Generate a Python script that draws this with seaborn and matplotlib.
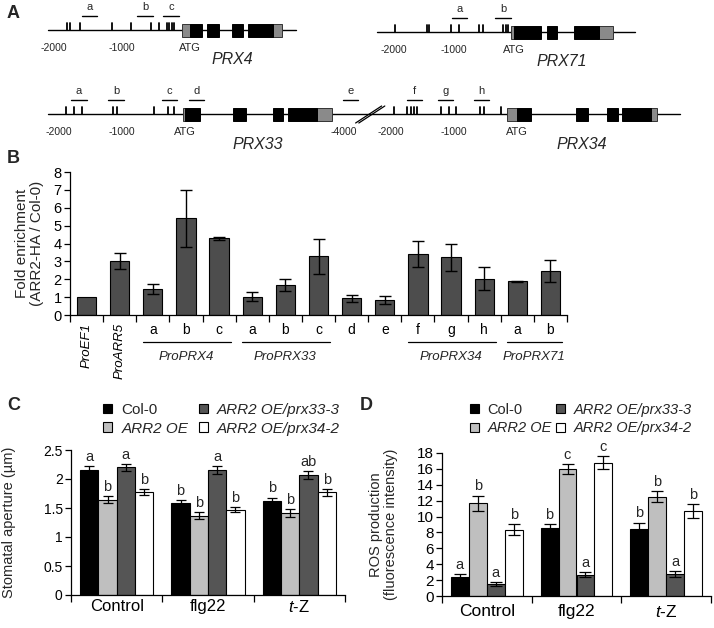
import numpy as np
import pandas as pd
import matplotlib
matplotlib.use("Agg")
import matplotlib.pyplot as plt
from matplotlib.patches import Rectangle, Patch
from matplotlib.ticker import FixedLocator
import seaborn as sns

# ---------------- A: promoter maps (bp relative to ATG) ----------------
prx4_line = [-2088, 1559]
prx4_motifs = [-1809, -1765, -1618, -1147, -868, -574, -456, -338, -309, -265, -235]
prx4_utrs = [(-118, 0), (1221, 1353)]
prx4_exons = [(0, 176), (250, 426), (618, 779), (853, 1221)]
prx4_frags = [('a', -1588, -1368), ('b', -779, -544), ('c', -397, -162)]

prx71_line = [-2283, 2017]
prx71_motifs = [-1983, -1450, -1417, -1050, -917, -583, -517, -183, -133, -100]
prx71_utrs = [(-50, 0), (1417, 1650)]
prx71_exons = [(0, 450), (550, 717), (1000, 1417)]
prx71_frags = [('a', -1033, -783), ('b', -317, -50)]

prx33_line = [-2175, 2333]
prx33_motifs = [-1889, -1762, -1635, -1143, -1079, -492, -270, -175]
prx33_utrs = [(-32, 0), (2095, 2333)]
prx33_exons = [(0, 238), (762, 968), (1397, 1556), (1635, 2095)]
prx33_frags = [('a', -1810, -1556), ('b', -1222, -968), ('c', -365, -127), ('d', 63, 302)]

prx34_line = [-2330, 2587]
prx34_motifs = [-1952, -1746, -1683, -1635, -1587, -1206, -1079, -968, -587, -524, -254]
prx34_utrs = [(-159, 0), (2127, 2222)]
prx34_exons = [(0, 222), (937, 1127), (1429, 1603), (1667, 2127)]
prx34_frags = [('e', -4020, -3780), ('f', -1746, -1508), ('g', -1254, -1016), ('h', -683, -444)]

scale_marks = [-2000, -1000]
prx34_scale_marks = [-4000, -2000, -1000]

# ---------------- B: ChIP-qPCR ----------------
chip_sites = ['ProEF1', 'ProARR5', 'a', 'b', 'c', 'a', 'b', 'c', 'd', 'e', 'f', 'g', 'h', 'a', 'b']
chip_fold = [1.0, 3.03, 1.45, 5.4, 4.28, 1.02, 1.67, 3.29, 0.93, 0.86, 3.39, 3.22, 2.03, 1.88, 2.46]
chip_err = [0, 0.45, 0.3, 1.6, 0.1, 0.24, 0.33, 0.97, 0.2, 0.23, 0.73, 0.75, 0.63, 0.05, 0.63]
chip_groups = [('ProPRX4', 2, 4), ('ProPRX33', 5, 7), ('ProPRX34', 10, 12), ('ProPRX71', 13, 14)]

# ---------------- C / D ----------------
treatments = ['Control', 'flg22', '$t$-Z']
genotypes = ['Col-0', 'ARR2 OE', 'ARR2 OE/prx33-3', 'ARR2 OE/prx34-2']
geno_colors = ['black', '#bfbfbf', '#555555', 'white']

aperture_col0 = [2.15, 1.58, 1.62]
aperture_oe = [1.64, 1.37, 1.41]
aperture_prx33 = [2.20, 2.15, 2.07]
aperture_prx34 = [1.78, 1.47, 1.77]
aperture_col0_err = [0.07, 0.065, 0.06]
aperture_oe_err = [0.06, 0.06, 0.065]
aperture_prx33_err = [0.065, 0.07, 0.07]
aperture_prx34_err = [0.05, 0.045, 0.06]
aperture_letters = [['a', 'b', 'b'], ['b', 'b', 'b'], ['a', 'a', 'ab'], ['b', 'b', 'b']]

ros_col0 = [2.34, 8.5, 8.45]
ros_oe = [11.7, 16.0, 12.5]
ros_prx33 = [1.5, 2.68, 2.76]
ros_prx34 = [8.37, 16.8, 10.7]
ros_col0_err = [0.45, 0.58, 0.8]
ros_oe_err = [0.94, 0.63, 0.7]
ros_prx33_err = [0.3, 0.3, 0.4]
ros_prx34_err = [0.67, 0.87, 0.88]
ros_letters = [['a', 'b', 'b'], ['b', 'c', 'b'], ['a', 'a', 'a'], ['b', 'c', 'b']]

# ---------------- style ----------------
sns.set_theme(style='ticks')
plt.rcParams['font.family'] = ['Liberation Sans', 'DejaVu Sans']
plt.rcParams['mathtext.fontset'] = 'custom'
plt.rcParams['mathtext.rm'] = 'Liberation Sans'
plt.rcParams['mathtext.it'] = 'Liberation Sans:italic'
plt.rcParams['axes.edgecolor'] = 'black'
plt.rcParams['xtick.color'] = 'black'
plt.rcParams['ytick.color'] = 'black'
plt.rcParams['axes.linewidth'] = 0.9

W, H = 714, 628
fig = plt.figure(figsize=(W / 100, H / 100), dpi=100)


def box(l, t, r, b):
    return [l / W, 1 - b / H, (r - l) / W, (b - t) / H]


def panel_letter(x, y, s):
    fig.text(x / W, 1 - y / H, s, fontsize=13, fontweight='bold', ha='left', va='center')


# ---------------- panel A ----------------
ax_a = fig.add_axes(box(0, 0, W, 158))
ax_a.set_xlim(0, W)
ax_a.set_ylim(158, 0)
ax_a.axis('off')


def mapper(x0, scale, brk=None, gap=0):
    def f(bp):
        if brk is not None and bp < brk:
            bp = bp + gap
        return x0 + bp * scale
    return f


def draw_map(X, y, motifs, utrs, exons, frags, marks, name, line=None):
    if line is not None:
        ax_a.plot([X(line[0]), X(line[1])], [y, y], color='black', lw=1)
    for m in motifs:
        ax_a.plot([X(m), X(m)], [y, y - 7], color='black', lw=1.3)
    for s, e in utrs:
        ax_a.add_patch(Rectangle((X(s), y - 6.5), X(e) - X(s), 13,
                                 fc='#8a8a8a', ec='#333333', lw=0.7, zorder=3))
    for s, e in exons:
        ax_a.add_patch(Rectangle((X(s), y - 6.5), X(e) - X(s), 13,
                                 fc='black', ec='black', lw=0.7, zorder=3))
    for lab, s, e in frags:
        ax_a.plot([X(s), X(e)], [y - 14, y - 14], color='black', lw=1)
        ax_a.text((X(s) + X(e)) / 2, y - 23, lab, fontsize=8, ha='center', va='center')
    for m in marks:
        ax_a.text(X(m), y + 18, str(m), fontsize=7.5, ha='center', va='center')
    ax_a.text(X(0), y + 18, 'ATG', fontsize=8, ha='center', va='center')
    g0, g1 = utrs[0][0], utrs[-1][1]
    ax_a.text((X(g0) + X(g1)) / 2, y + 30, name, fontsize=11.5, style='italic',
              ha='center', va='center')


X4 = mapper(190, 0.068)
X71 = mapper(514, 0.06)
X33 = mapper(185, 0.063)
prx34_break = -2330
X34 = mapper(517, 0.063, brk=prx34_break, gap=1254)

draw_map(X4, 30, prx4_motifs, prx4_utrs, prx4_exons, prx4_frags, scale_marks, 'PRX4', prx4_line)
draw_map(X71, 32, prx71_motifs, prx71_utrs, prx71_exons, prx71_frags, scale_marks, 'PRX71', prx71_line)
draw_map(X33, 114, prx33_motifs, prx33_utrs, prx33_exons, prx33_frags, scale_marks, 'PRX33')
draw_map(X34, 114, prx34_motifs, prx34_utrs, prx34_exons, prx34_frags, prx34_scale_marks, 'PRX34')
ax_a.plot([X33(prx33_line[0]), X34(prx34_line[1])], [114, 114], color='black', lw=1, zorder=1)
bx = X34(prx34_break)
for dx in (-1.6, 1.6):
    ax_a.plot([bx + dx - 13, bx + dx + 13], [123, 106], color='black', lw=0.9)

panel_letter(7, 14, 'A')

# ---------------- panel B ----------------
ax_b = fig.add_axes(box(70, 172, 567, 315))
df_b = pd.DataFrame({'pos': np.arange(len(chip_sites)), 'fold': chip_fold})
sns.barplot(data=df_b, x='pos', y='fold', color='#4d4d4d', saturation=1,
            edgecolor='black', linewidth=0.8, width=0.58, errorbar=None, ax=ax_b)
bars = ax_b.containers[0]
bx_pos = np.array([b.get_x() + b.get_width() / 2 for b in bars])
err = np.array(chip_err)
has_err = err > 0
ax_b.errorbar(bx_pos[has_err], np.array(chip_fold)[has_err], yerr=err[has_err], fmt='none',
              ecolor='black', elinewidth=1, capsize=4.5, capthick=1)
ax_b.set_xlim(-0.5, len(chip_sites) - 0.5)
ax_b.set_ylim(0, 8)
ax_b.set_yticks(range(0, 9))
ax_b.set_xticks(range(len(chip_sites)))
ax_b.set_xticklabels(chip_sites)
ax_b.xaxis.set_minor_locator(FixedLocator(np.arange(-0.5, len(chip_sites), 1)))
ax_b.tick_params(axis='x', which='major', length=0, pad=6, labelsize=10)
ax_b.tick_params(axis='x', which='minor', length=5, width=0.9, direction='out')
ax_b.tick_params(axis='y', length=4, width=0.9, pad=2, labelsize=10.5)
for lbl in ax_b.get_xticklabels()[:2]:
    lbl.set_rotation(90)
    lbl.set_style('italic')
    lbl.set_fontsize(9.5)
for name, s, e in chip_groups:
    ax_b.plot([s - 0.3, e + 0.35], [-0.19, -0.19], transform=ax_b.get_xaxis_transform(),
              clip_on=False, color='black', lw=0.9)
    ax_b.text((s + e) / 2, -0.295, name, transform=ax_b.get_xaxis_transform(),
              fontsize=9.5, style='italic', ha='center', va='center')
ax_b.set_xlabel('')
ax_b.set_ylabel('Fold enrichment\n(ARR2-HA / Col-0)', fontsize=11, linespacing=1.1)
ax_b.yaxis.set_label_coords(-0.052, 0.5)
sns.despine(ax=ax_b)
panel_letter(7, 158, 'B')


# ---------------- panels C and D ----------------
def grouped_panel(ax, values, errors, letters, ymax, ystep, ylabel, tick_fs, cat_fs, cat_pad, cap):
    rows = []
    for g, vals in zip(genotypes, values):
        for t, v in zip(treatments, vals):
            rows.append({'treatment': t, 'genotype': g, 'value': v})
    df = pd.DataFrame(rows)
    sns.barplot(data=df, x='treatment', y='value', hue='genotype', order=treatments,
                hue_order=genotypes, palette=geno_colors, saturation=1, edgecolor='black',
                linewidth=0.8, errorbar=None, legend=False, ax=ax)
    for cont, errs, labs in zip(ax.containers, errors, letters):
        xs = [b.get_x() + b.get_width() / 2 for b in cont]
        hs = [b.get_height() for b in cont]
        ax.errorbar(xs, hs, yerr=errs, fmt='none', ecolor='black', elinewidth=0.9,
                    capsize=cap, capthick=0.9)
        for x, h, e, lab in zip(xs, hs, errs, labs):
            ax.annotate(lab, (x, h + e), xytext=(0, 1.5), textcoords='offset points',
                        ha='center', va='bottom', fontsize=10.5)
    ax.set_xlim(-0.5, len(treatments) - 0.5)
    ax.set_ylim(0, ymax)
    ax.set_yticks(np.arange(0, ymax + ystep / 2, ystep))
    ax.set_yticklabels([f'{v:g}' for v in np.arange(0, ymax + ystep / 2, ystep)])
    ax.xaxis.set_minor_locator(FixedLocator(np.arange(-0.5, len(treatments), 1)))
    ax.tick_params(axis='x', which='major', length=0, pad=cat_pad, labelsize=cat_fs)
    ax.tick_params(axis='x', which='minor', length=5, width=0.9, direction='out')
    ax.tick_params(axis='y', length=4, width=0.9, pad=2, labelsize=tick_fs)
    ax.set_xlabel('')
    ax.set_ylabel(ylabel, fontsize=10.5, linespacing=1.1)
    sns.despine(ax=ax)


def geno_legend(ax, left, top, fs, colspace):
    handles = [Patch(facecolor=c, edgecolor='black', lw=0.8) for c in geno_colors]
    leg = ax.legend(handles, genotypes, ncol=2, frameon=False, loc='upper left',
                    bbox_to_anchor=(left / W, 1 - top / H), bbox_transform=fig.transFigure,
                    handlelength=0.6, handleheight=0.6, handletextpad=0.6,
                    columnspacing=colspace, labelspacing=0.3, borderpad=0,
                    borderaxespad=0, fontsize=fs)
    for t in leg.get_texts()[1:]:
        t.set_style('italic')


ax_c = fig.add_axes(box(71, 450, 345, 595))
grouped_panel(ax_c, [aperture_col0, aperture_oe, aperture_prx33, aperture_prx34],
              [aperture_col0_err, aperture_oe_err, aperture_prx33_err, aperture_prx34_err],
              aperture_letters, 2.5, 0.5, 'Stomatal aperture (µm)', 10, 12, 3, 3.5)
ax_c.yaxis.set_label_coords(-0.2, 0.5)
geno_legend(ax_c, 103, 403, 11, 0.7)
panel_letter(7, 406, 'C')

ax_d = fig.add_axes(box(442, 453, 711, 596))
grouped_panel(ax_d, [ros_col0, ros_oe, ros_prx33, ros_prx34],
              [ros_col0_err, ros_oe_err, ros_prx33_err, ros_prx34_err],
              ros_letters, 18, 2, 'ROS production\n(fluorescence intensity)', 11, 12.5, 6, 4)
ax_d.yaxis.set_label_coords(-0.164, 0.5)
geno_legend(ax_d, 470, 403, 10.5, 0.3)
panel_letter(360, 405, 'D')

fig.savefig('out.png', dpi=100)
